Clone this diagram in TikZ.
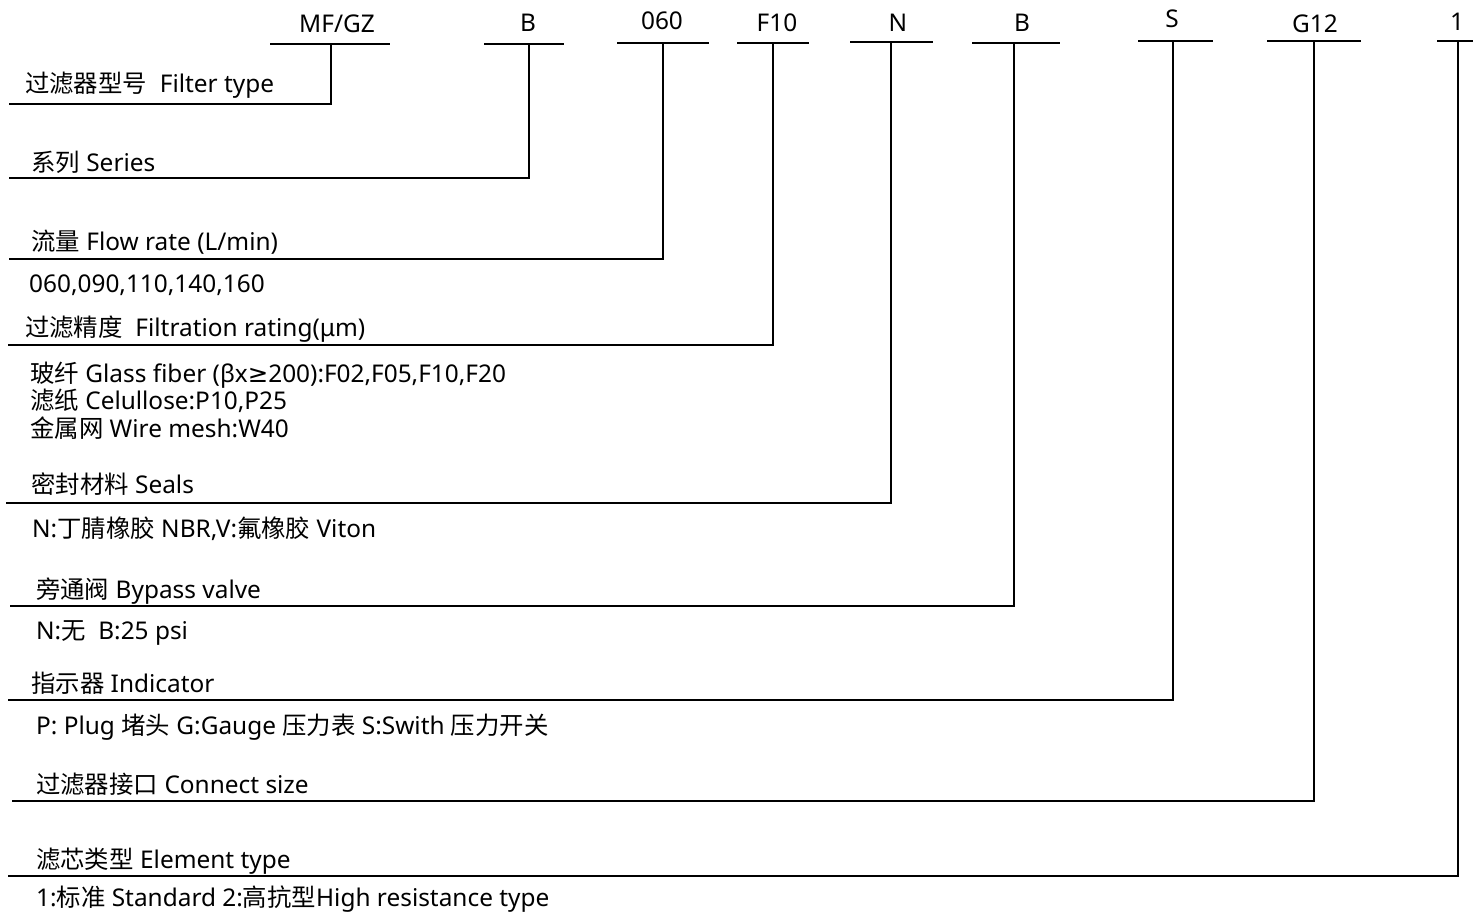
\documentclass[tikz,border=0pt]{standalone}
\usepackage{fontspec}
\setmainfont{Noto Sans}
\newfontfamily\cjk{Noto Sans CJK SC}
\newfontfamily\symf{DejaVu Sans}
\begin{document}
\begin{tikzpicture}[x=1pt,y=-1pt,
  lbl/.style={anchor=base west,inner sep=0pt,font=\fontsize{24.4}{29}\selectfont},
  code/.style={anchor=base,inner sep=0pt,font=\fontsize{24.4}{29}\selectfont},
  bar/.style={line width=2.9pt},
  lead/.style={line width=2.9pt,line join=miter}]
\useasboundingbox (0,0) rectangle (1473,913);
% top codes
\node[code] (c1) at (337,32) {MF/GZ};
\node[code] (c2) at (528,31) {B};
\node[code] (c3) at (662,29) {060};
\node[code] (c4) at (777,31) {F10};
\node[code] (c5) at (898,31) {N};
\node[code] (c6) at (1022,31) {B};
\node[code] (c7) at (1172,27) {S};
\node[code] (c8) at (1315,32) {G12};
\node[code] (c9) at (1457,30) {1};
% bars
\coordinate (b1l) at (270,44); \coordinate (b1r) at (390,44); \coordinate (t1) at (331,44);
\coordinate (b2l) at (484,44); \coordinate (b2r) at (564,44); \coordinate (t2) at (529,44);
\coordinate (b3l) at (617,43); \coordinate (b3r) at (709,43); \coordinate (t3) at (663,43);
\coordinate (b4l) at (737,43); \coordinate (b4r) at (809,43); \coordinate (t4) at (773,43);
\coordinate (b5l) at (850,42); \coordinate (b5r) at (933,42); \coordinate (t5) at (891,42);
\coordinate (b6l) at (972,43); \coordinate (b6r) at (1060,43); \coordinate (t6) at (1014,43);
\coordinate (b7l) at (1138,41); \coordinate (b7r) at (1213,41); \coordinate (t7) at (1173,41);
\coordinate (b8l) at (1267,41); \coordinate (b8r) at (1361,41); \coordinate (t8) at (1314,41);
\coordinate (b9l) at (1437,41); \coordinate (b9r) at (1473,41); \coordinate (t9) at (1458,41);
\foreach \i in {1,...,9} {\draw[bar] (b\i l) -- (b\i r);}
% corners and left ends
\coordinate (k1) at (331,104); \coordinate (e1) at (9,104);
\coordinate (k2) at (529,178); \coordinate (e2) at (9,178);
\coordinate (k3) at (663,259); \coordinate (e3) at (9,259);
\coordinate (k4) at (773,345); \coordinate (e4) at (8,345);
\coordinate (k5) at (891,503); \coordinate (e5) at (6,503);
\coordinate (k6) at (1014,606); \coordinate (e6) at (10,606);
\coordinate (k7) at (1173,700); \coordinate (e7) at (8,700);
\coordinate (k8) at (1314,801); \coordinate (e8) at (12,801);
\coordinate (k9) at (1458,876); \coordinate (e9) at (8,876);
\foreach \i in {1,...,9} {\draw[lead] (t\i) -- (k\i) -- (e\i);}
% labels
\node[lbl] (l1) at (25,92) {{\cjk 过滤器型号}~~Filter type};
\node[lbl] (l2) at (31,171) {{\cjk 系列} Series};
\node[lbl] (l3) at (31,250) {{\cjk 流量} Flow rate (L/min)};
\node[lbl] (d3) at (29,292) {060,090,110,140,160};
\node[lbl] (l4) at (25,336) {{\cjk 过滤精度}~~Filtration rating(μm)};
\node[lbl] (d4a) at (30,382) {{\cjk 玻纤} Glass fiber (βx{\symf ≥}200):F02,F05,F10,F20};
\node[lbl] (d4b) at (30,409) {{\cjk 滤纸} Celullose:P10,P25};
\node[lbl] (d4c) at (30,437) {{\cjk 金属网} Wire mesh:W40};
\node[lbl] (l5) at (31,493) {{\cjk 密封材料} Seals};
\node[lbl] (d5) at (32,537) {N:{\cjk 丁腈橡胶} NBR,V:{\cjk 氟橡胶} Viton};
\node[lbl] (l6) at (36,598) {{\cjk 旁通阀} Bypass valve};
\node[lbl] (d6) at (36,639) {N:{\cjk 无}~~B:25 psi};
\node[lbl] (l7) at (31,692) {{\cjk 指示器} Indicator};
\node[lbl] (d7) at (36,734) {P: Plug {\cjk 堵头} G:Gauge {\cjk 压力表} S:Swith {\cjk 压力开关}};
\node[lbl] (l8) at (36,793) {{\cjk 过滤器接口} Connect size};
\node[lbl] (l9) at (36,868) {{\cjk 滤芯类型} Element type};
\node[lbl] (d9) at (36,906) {1:{\cjk 标准} Standard 2:{\cjk 高抗型}High resistance type};
\end{tikzpicture}
\end{document}
